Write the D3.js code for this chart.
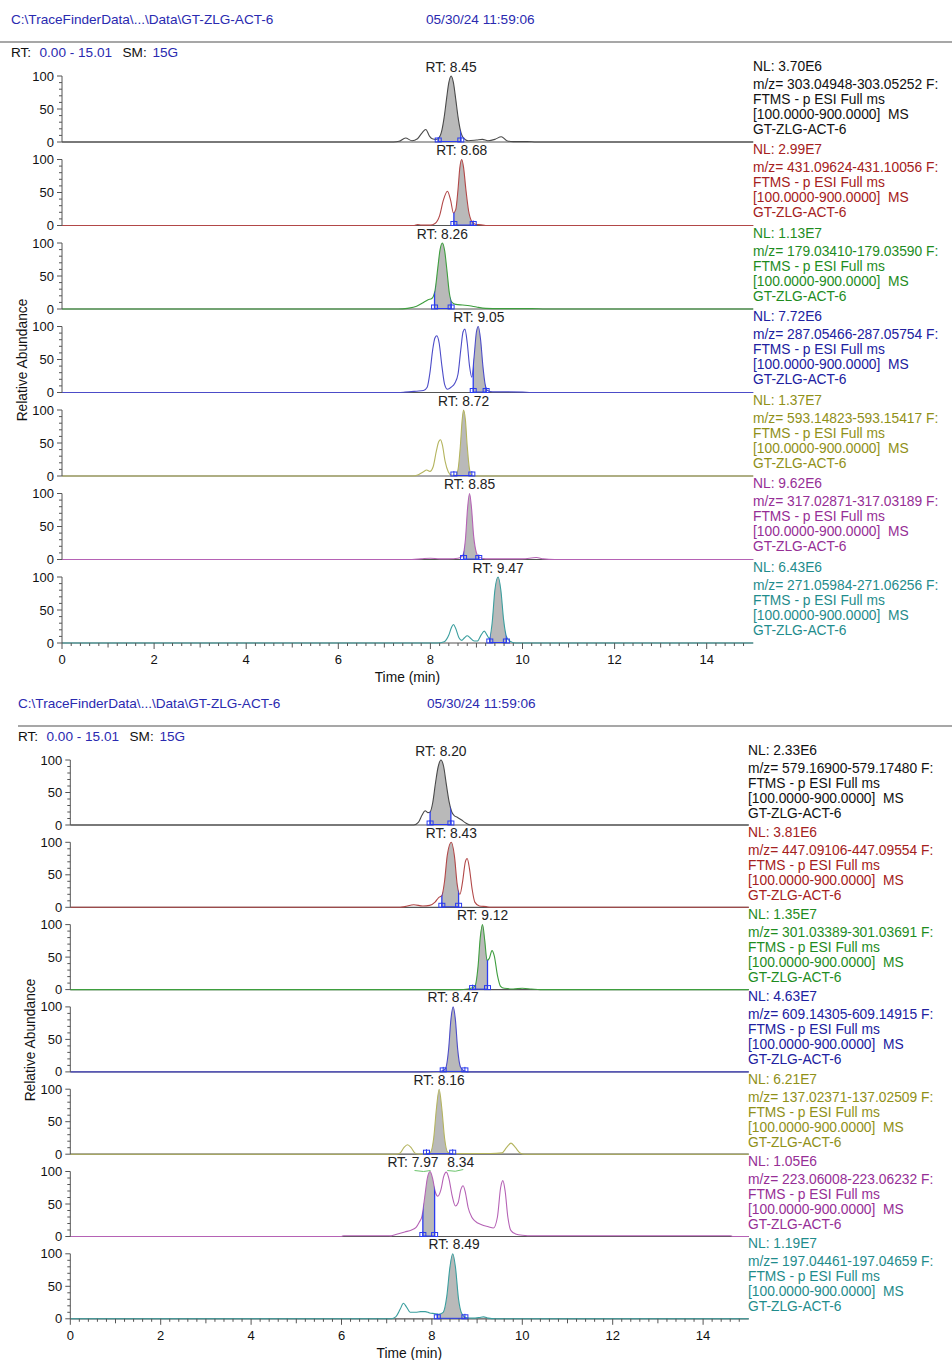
<!DOCTYPE html>
<html>
<head>
<meta charset="utf-8">
<script src="https://cdn.jsdelivr.net/npm/d3@7"></script>
<style>
  body { margin: 0; background: #fff; }
  text { font-family: "Liberation Sans", Arial, sans-serif; }
</style>
</head>
<body>
<svg id="chart" width="952" height="1360"></svg>
<script>
'use strict';

// ---- data ----
var fileLabel = 'C:\\TraceFinderData\\...\\Data\\GT-ZLG-ACT-6';
var dateLabel = '05/30/24 11:59:06';
var rtRange = [0, 15.01];
var smLabel = '15G';
var xTickValues = [0, 2, 4, 6, 8, 10, 12, 14];
var yTickValues = [0, 50, 100];
var scanFilter = 'FTMS - p ESI Full ms';
var massRange = '[100.0000-900.0000]  MS';
var sampleName = 'GT-ZLG-ACT-6';

// panel 1
var p1NL = ['3.70E6', '2.99E7', '1.13E7', '7.72E6', '1.37E7', '9.62E6', '6.43E6'];
var p1Mz = ['303.04948-303.05252', '431.09624-431.10056', '179.03410-179.03590', '287.05466-287.05754',
            '593.14823-593.15417', '317.02871-317.03189', '271.05984-271.06256'];
var p1RT = [[8.45], [8.68], [8.26], [9.05], [8.72], [8.85], [9.47]];
var p1Integration = [[8.17, 8.66], [8.51, 8.93], [8.09, 8.45], [8.93, 9.21], [8.51, 8.9], [8.72, 9.05], [9.29, 9.65]];

var p1Trace1 = [[0,0],[7.2,0],[7.32,1],[7.46,6],[7.6,2],[7.72,5],[7.82,14],[7.9,19],[7.98,9],[8.04,5],[8.12,4],
  [8.18,6],[8.25,18],[8.3,38],[8.35,65],[8.4,90],[8.45,100],[8.5,90],[8.55,65],[8.6,38],[8.65,18],[8.72,6],[8.82,2],
  [9.0,3],[9.13,4],[9.25,2],[9.4,4],[9.54,8],[9.66,2],[9.8,0.6],[10.1,0.6],[10.3,0],[15.01,0]];
var p1Trace2 = [[0,0],[7.65,0],[7.72,1.5],[7.8,0.5],[8.0,0.5],[8.1,3],[8.2,15],[8.28,38],[8.37,52],[8.44,38],[8.5,19],
  [8.55,24],[8.6,55],[8.64,88],[8.68,100],[8.72,88],[8.77,55],[8.83,22],[8.9,6],[8.97,2],[9.1,1],[9.2,0],[15.01,0]];
var p1Trace3 = [[0,0],[7.3,0],[7.5,1],[7.7,4],[7.85,10],[7.95,14],[8.03,16],[8.1,28],[8.16,62],[8.21,90],[8.26,100],
  [8.31,88],[8.36,58],[8.41,25],[8.47,10],[8.55,7],[8.7,6],[8.85,5],[9.0,3],[9.2,1],[9.5,0.6],[10.2,0.6],[10.5,0],[15.01,0]];
var p1Trace4 = [[0,0],[7.3,0],[7.45,0.5],[7.7,2],[7.85,3],[7.93,8],[7.99,30],[8.05,65],[8.1,83],[8.14,86],[8.19,75],
  [8.25,40],[8.31,12],[8.37,5],[8.45,8],[8.53,14],[8.6,28],[8.66,65],[8.71,92],[8.75,96],[8.8,75],[8.85,40],[8.9,23],
  [8.95,55],[9.0,92],[9.04,100],[9.09,80],[9.14,40],[9.19,12],[9.24,3],[9.35,1],[9.6,1],[10.0,0.5],[10.2,0],[15.01,0]];
var p1Trace5 = [[0,0],[7.6,0],[7.74,2],[7.84,6],[7.92,9],[7.99,7],[8.06,14],[8.13,38],[8.18,52],[8.22,55],[8.26,47],
  [8.32,22],[8.39,6],[8.46,1],[8.55,1],[8.6,10],[8.65,45],[8.69,85],[8.72,100],[8.76,85],[8.8,45],[8.85,10],[8.9,1],
  [9.0,0],[15.01,0]];
var p1Trace6 = [[0,0],[7.6,0],[7.8,1],[8.0,2],[8.2,1],[8.4,1],[8.6,2],[8.7,6],[8.76,30],[8.81,80],[8.85,100],
  [8.89,80],[8.94,35],[9.0,10],[9.05,4],[9.2,1],[9.6,1],[10.0,1],[10.3,3],[10.45,1],[10.7,0],[15.01,0]];
var p1Trace7 = [[0,0],[8.15,0],[8.3,2],[8.4,12],[8.46,24],[8.5,28],[8.55,22],[8.62,8],[8.68,4],[8.74,8],[8.8,11],
  [8.86,8],[8.95,3],[9.02,3],[9.1,12],[9.17,18],[9.23,12],[9.28,7],[9.34,30],[9.4,80],[9.47,100],[9.53,80],[9.59,35],
  [9.65,10],[9.72,3],[9.85,0],[15.01,0]];

// panel 2
var p2NL = ['2.33E6', '3.81E6', '1.35E7', '4.63E7', '6.21E7', '1.05E6', '1.19E7'];
var p2Mz = ['579.16900-579.17480', '447.09106-447.09554', '301.03389-301.03691', '609.14305-609.14915',
            '137.02371-137.02509', '223.06008-223.06232', '197.04461-197.04659'];
var p2RT = [[8.20], [8.43], [9.12], [8.47], [8.16], [7.97, 8.34], [8.49]];
var p2Integration = [[7.96, 8.42], [8.22, 8.59], [8.9, 9.23], [8.25, 8.73], [7.88, 8.46], [7.8, 8.06], [8.12, 8.73]];

var p2Trace1 = [[0,0],[7.6,0],[7.7,4],[7.78,15],[7.85,22],[7.91,19],[7.96,20],[8.02,35],[8.08,65],[8.14,90],[8.2,100],
  [8.26,90],[8.32,62],[8.38,36],[8.44,20],[8.5,14],[8.56,12],[8.65,8],[8.75,3],[8.85,0],[15.01,0]];
var p2Trace2 = [[0,0],[7.3,0],[7.4,1],[7.6,4],[7.8,2],[7.95,3],[8.07,8],[8.15,15],[8.22,18],[8.28,40],[8.34,80],
  [8.43,100],[8.5,78],[8.56,35],[8.62,20],[8.68,40],[8.74,70],[8.78,75],[8.83,60],[8.89,28],[8.95,8],[9.05,2],[9.2,1],
  [9.3,0],[15.01,0]];
var p2Trace3 = [[0,0],[8.6,0],[8.8,1],[8.95,5],[9.02,35],[9.07,80],[9.12,100],[9.17,75],[9.22,45],[9.27,48],[9.33,60],
  [9.38,52],[9.45,22],[9.52,5],[9.6,2],[9.8,1],[10.0,2],[10.2,1],[10.4,0],[15.01,0]];
var p2Trace4 = [[0,0],[7.8,0],[8.1,0.5],[8.2,1],[8.3,5],[8.37,35],[8.42,80],[8.47,100],[8.52,80],[8.57,35],[8.63,8],
  [8.7,2],[8.8,0],[15.01,0]];
var p2Trace5 = [[0,0],[7.2,0],[7.3,2],[7.38,10],[7.46,14.5],[7.54,10],[7.62,2],[7.7,0],[7.9,1],[7.97,3],[8.04,25],
  [8.1,70],[8.16,100],[8.22,70],[8.28,25],[8.35,3],[8.42,1],[8.6,1],[9.0,1],[9.3,1],[9.55,2],[9.65,10],[9.75,17],
  [9.85,10],[9.95,2],[10.05,0],[15.01,0]];
var p2Trace6 = [[0,0],[6.0,0],[6.05,1.2],[7.0,1.2],[7.1,1],[7.2,3],[7.4,7],[7.55,10],[7.65,14],[7.72,22],[7.78,31],
  [7.84,60],[7.9,90],[7.96,100],[8.02,88],[8.07,70],[8.13,62],[8.2,72],[8.26,92],[8.32,99],[8.38,88],[8.45,62],
  [8.52,47],[8.58,52],[8.64,72],[8.69,78],[8.74,68],[8.8,45],[8.88,30],[8.95,24],[9.1,18],[9.25,15],[9.36,13],
  [9.45,30],[9.52,75],[9.57,86],[9.62,70],[9.68,30],[9.75,9],[9.85,4],[10.0,2],[10.24,1.2],[14.6,1.2],[14.65,0],[15.01,0]];
var p2Trace7 = [[0,0],[7.1,0],[7.2,3],[7.3,15],[7.37,24],[7.44,18],[7.52,10],[7.64,10],[7.75,11],[7.85,11],[7.95,9],
  [8.05,8],[8.15,7],[8.25,10],[8.33,35],[8.4,80],[8.46,100],[8.52,80],[8.59,30],[8.66,8],[8.75,2],[8.9,1],[9.05,2],
  [9.14,3],[9.25,1],[9.4,0],[15.01,0]];

// ---- style ----
var headerBlue = '#2a2ab0';
var traceStroke = ['#4a4a4a', '#b24848', '#3e9e3e', '#4c4cc8', '#b4b45e', '#b562b5', '#3a9e9e'];
var traceText = ['#111111', '#a52020', '#1e8c1e', '#2020a0', '#909018', '#962e96', '#1f8c8c'];
var integBlue = '#2b3cf0';
var peakFill = '#b9b9b9';
var fontSize = 13.8;

var panelLayouts = [
  { x0: 62, pxPerMin: 46.05, top0: 76, step: 83.5, h: 66, headerX: 11, headerY: 19, dateX: 426,
    ruleX0: 0, ruleY: 42, rangeY: 51.5, yTitleX: 22, yTitleY: 360, labelX: 753, tickLabelY: 659, xTitleY: 677 },
  { x0: 70.3, pxPerMin: 45.2, top0: 760, step: 82.3, h: 65, headerX: 18, headerY: 703, dateX: 427,
    ruleX0: 18, ruleY: 726, rangeY: 735.5, yTitleX: 30, yTitleY: 1040, labelX: 748, tickLabelY: 1335, xTitleY: 1353 }
];

var svg = d3.select('#chart');
var clipCount = 0;

function drawPanel(lay, traces, nl, mz, rts, integ) {
    var g = svg.append('g');
    var x = d3.scaleLinear()
        .domain(rtRange)
        .range([lay.x0, lay.x0 + rtRange[1] * lay.pxPerMin]);

    // header
    g.append('text').attr('x', lay.headerX).attr('y', lay.headerY)
        .attr('dominant-baseline', 'central').attr('font-size', 13.6).attr('fill', headerBlue)
        .text(fileLabel);
    g.append('text').attr('x', lay.dateX).attr('y', lay.headerY)
        .attr('dominant-baseline', 'central').attr('font-size', 13.6).attr('fill', headerBlue)
        .text(dateLabel);
    g.append('line')
        .attr('x1', lay.ruleX0).attr('x2', 952)
        .attr('y1', lay.ruleY).attr('y2', lay.ruleY)
        .attr('stroke', '#8a8a8a').attr('stroke-width', 1.3);

    var range = g.append('text').attr('y', lay.rangeY)
        .attr('dominant-baseline', 'central').attr('font-size', 13.6);
    [['RT:', '#111', 0], ['0.00 - ' + d3.format('.2f')(rtRange[1]), headerBlue, 28.5],
     ['SM:', '#111', 111.5], [smLabel, headerBlue, 141.5]].forEach(function(p) {
        range.append('tspan').attr('x', lay.headerX + p[2]).attr('fill', p[1]).text(p[0]);
    });

    // y title
    g.append('text')
        .attr('transform', 'translate(' + lay.yTitleX + ',' + lay.yTitleY + ') rotate(-90)')
        .attr('text-anchor', 'middle').attr('dominant-baseline', 'central')
        .attr('font-size', fontSize).attr('fill', '#111')
        .text('Relative Abundance');

    var line = d3.line()
        .x(function(d) { return x(d[0]); })
        .curve(d3.curveMonotoneX);
    var area = d3.area()
        .x(function(d) { return x(d[0]); })
        .curve(d3.curveMonotoneX);

    traces.forEach(function(pts, i) {
        var top = lay.top0 + i * lay.step,
            base = top + lay.h,
            y = d3.scaleLinear().domain([0, 100]).range([base, top]),
            tg = g.append('g');

        line.y(function(d) { return y(d[1]); });
        area.y0(base).y1(function(d) { return y(d[1]); });

        // integrated peak fill
        var idFill = 'cf' + (clipCount++), idUnder = 'cu' + (clipCount++);
        tg.append('clipPath').attr('id', idFill)
            .append('rect')
            .attr('x', x(integ[i][0])).attr('width', x(integ[i][1]) - x(integ[i][0]))
            .attr('y', top - 10).attr('height', lay.h + 10);
        tg.append('clipPath').attr('id', idUnder)
            .append('path').attr('d', area(pts));
        tg.append('path')
            .attr('d', area(pts))
            .attr('clip-path', 'url(#' + idFill + ')')
            .attr('fill', peakFill);

        // baseline
        tg.append('line')
            .attr('x1', x(rtRange[0])).attr('x2', x(rtRange[1]))
            .attr('y1', base).attr('y2', base)
            .attr('stroke', '#555').attr('stroke-width', 1.2);

        // trace
        tg.append('path')
            .attr('d', line(pts))
            .attr('fill', 'none')
            .attr('stroke', traceStroke[i])
            .attr('stroke-width', 1.1);

        // integration markers
        tg.append('line')
            .attr('x1', x(integ[i][0])).attr('x2', x(integ[i][1]))
            .attr('y1', base - 0.5).attr('y2', base - 0.5)
            .attr('stroke', integBlue).attr('stroke-width', 1);
        integ[i].forEach(function(t) {
            tg.append('line')
                .attr('x1', x(t)).attr('x2', x(t))
                .attr('y1', base).attr('y2', top)
                .attr('clip-path', 'url(#' + idUnder + ')')
                .attr('stroke', integBlue).attr('stroke-width', 1.3);
            tg.append('rect')
                .attr('x', x(t) - 3).attr('y', base - 4)
                .attr('width', 6).attr('height', 4)
                .attr('fill', 'none')
                .attr('stroke', integBlue).attr('stroke-width', 1);
            tg.append('line')
                .attr('x1', x(t)).attr('x2', x(t))
                .attr('y1', base - 5).attr('y2', base)
                .attr('stroke', integBlue).attr('stroke-width', 1);
        });

        // y axis
        tg.append('line')
            .attr('x1', lay.x0).attr('x2', lay.x0)
            .attr('y1', top).attr('y2', base)
            .attr('stroke', '#555').attr('stroke-width', 1);
        d3.range(0, 101, 10).forEach(function(v) {
            var major = yTickValues.indexOf(v) >= 0;
            tg.append('line')
                .attr('x1', lay.x0 - (major ? 5 : 3)).attr('x2', lay.x0)
                .attr('y1', y(v)).attr('y2', y(v))
                .attr('stroke', '#555').attr('stroke-width', 1);
        });
        yTickValues.forEach(function(v) {
            tg.append('text')
                .attr('x', lay.x0 - 8).attr('y', y(v))
                .attr('text-anchor', 'end').attr('dominant-baseline', 'central')
                .attr('font-size', 13).attr('fill', '#111')
                .text(v);
        });

        // RT labels
        var labels = rts[i];
        labels.forEach(function(rt, k) {
            var t = tg.append('text')
                .attr('y', top - 9)
                .attr('dominant-baseline', 'central')
                .attr('font-size', fontSize).attr('fill', '#222');
            if (labels.length === 1) {
                t.attr('x', x(rt)).attr('text-anchor', 'middle').text('RT: ' + d3.format('.2f')(rt));
            } else if (k === 0) {
                t.attr('x', x(rt) + 8).attr('text-anchor', 'end').text('RT: ' + d3.format('.2f')(rt));
                tg.append('path')
                    .attr('d', 'M' + (x(rt) - 16) + ',' + (top - 1) + ' Q' + (x(rt) - 6) + ',' + (top + 1) + ' ' + x(rt) + ',' + (top - 1))
                    .attr('fill', 'none').attr('stroke', '#6cc46c').attr('stroke-width', 1);
            } else {
                t.attr('x', x(rt)).attr('text-anchor', 'start').text(d3.format('.2f')(rt));
                tg.append('path')
                    .attr('d', 'M' + x(rt) + ',' + (top - 1) + ' Q' + (x(rt) + 8) + ',' + (top + 1) + ' ' + (x(rt) + 16) + ',' + (top - 2))
                    .attr('fill', 'none').attr('stroke', '#6cc46c').attr('stroke-width', 1);
            }
        });

        // right-hand description
        var lines = [['NL: ' + nl[i], top - 10],
                     ['m/z= ' + mz[i] + ' F:', top + 8],
                     [scanFilter, top + 23],
                     [massRange, top + 38],
                     [sampleName, top + 53]];
        lines.forEach(function(l) {
            tg.append('text')
                .attr('x', lay.labelX).attr('y', l[1])
                .attr('dominant-baseline', 'central')
                .attr('font-size', fontSize).attr('fill', traceText[i])
                .attr('xml:space', 'preserve')
                .text(l[0]);
        });
    });

    // time axis under the last trace
    var axisY = lay.top0 + (traces.length - 1) * lay.step + lay.h;
    var xg = g.append('g');
    d3.range(0, 150, 2).map(function(v) { return v / 10; }).forEach(function(t) {
        var major = Math.abs(t - Math.round(t / 2) * 2) < 1e-6;
        var mid = !major && Math.abs(t - Math.round(t)) < 1e-6;
        xg.append('line')
            .attr('x1', x(t)).attr('x2', x(t))
            .attr('y1', axisY).attr('y2', axisY + (major ? 6 : mid ? 4.5 : 3))
            .attr('stroke', '#555').attr('stroke-width', 1);
    });
    xTickValues.forEach(function(t) {
        xg.append('text')
            .attr('x', x(t)).attr('y', lay.tickLabelY)
            .attr('text-anchor', 'middle').attr('dominant-baseline', 'central')
            .attr('font-size', 13).attr('fill', '#111')
            .text(t);
    });
    xg.append('text')
        .attr('x', x(7.5)).attr('y', lay.xTitleY)
        .attr('text-anchor', 'middle').attr('dominant-baseline', 'central')
        .attr('font-size', fontSize).attr('fill', '#111')
        .text('Time (min)');
}

drawPanel(panelLayouts[0],
    [p1Trace1, p1Trace2, p1Trace3, p1Trace4, p1Trace5, p1Trace6, p1Trace7],
    p1NL, p1Mz, p1RT, p1Integration);
drawPanel(panelLayouts[1],
    [p2Trace1, p2Trace2, p2Trace3, p2Trace4, p2Trace5, p2Trace6, p2Trace7],
    p2NL, p2Mz, p2RT, p2Integration);
</script>
</body>
</html>
